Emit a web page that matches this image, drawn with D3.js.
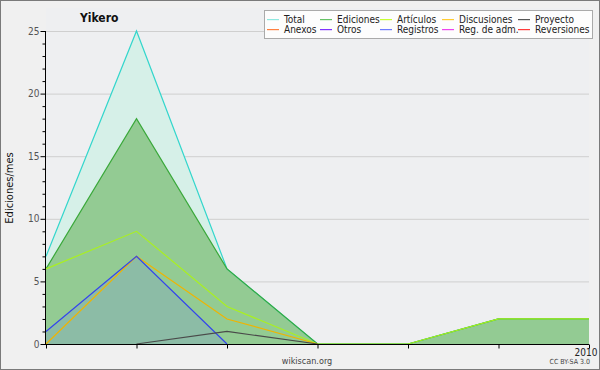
<!DOCTYPE html>
<meta charset="utf-8">
<style>
body { margin: 0; background: #f0f0f0; }
text { font-family: "DejaVu Sans Condensed", "DejaVu Sans", sans-serif; }
</style>
<svg width="600" height="370"></svg>
<script src="https://d3js.org/d3.v7.min.js"></script>
<script>

// months (only the last one gets a label)
var months = ["2009-07", "2009-08", "2009-09", "2009-10", "2009-11", "2009-12", "2010"];
var xLabels = ["", "", "", "", "", "", "2010"];

var total       = [7, 25, 6, 0, 0, 2, 2];
var ediciones   = [6, 18, 6, 0, 0, 2, 2];
var articulos   = [6, 9, 3, 0, 0, 2, 2];
var discusiones = [0, 7, 2, 0, null, null, null];
var registros   = [1, 7, 0, null, null, null, null];
var proyecto    = [null, 0, 1, 0, null, null, null];

var yTicks = [0, 5, 10, 15, 20, 25];

var legendNames  = ["Total", "Ediciones", "Artículos", "Discusiones", "Proyecto",
                    "Anexos", "Otros", "Registros", "Reg. de adm.", "Reversiones"];
var legendColors = ["#8fe8e0", "#66c266", "#c8ff33", "#ffcc33", "#555555",
                    "#ff8040", "#8033ff", "#6e7bff", "#ee44ee", "#ff3b3b"];

var svg = d3.select("svg"),
    width = +svg.attr("width"),
    height = +svg.attr("height");

var pLeft = 46, pRight = 589, pTop = 31, pBottom = 344;

var x = d3.scalePoint().domain(d3.range(months.length)).range([pLeft, pRight]);
var y = d3.scaleLinear().domain([0, 25]).range([pBottom, pTop]);

// outer frame
svg.append("rect").attr("x", 0.5).attr("y", 0.5).attr("width", width - 1).attr("height", height - 1)
  .attr("fill", "#f0f0f0").attr("stroke", "#7a7a7a");

// plot bg
svg.append("rect").attr("x", pLeft).attr("y", 8).attr("width", pRight - pLeft).attr("height", pBottom - 8)
  .attr("fill", "#eeeff1");

// grid
svg.append("g").selectAll("line").data(yTicks.slice(1)).enter().append("line")
  .attr("x1", pLeft).attr("x2", pRight)
  .attr("y1", function(d) { return y(d) + 0.5; }).attr("y2", function(d) { return y(d) + 0.5; })
  .attr("stroke", "#cfcfcf");

function area(vals) {
  return d3.area()
    .defined(function(d) { return d != null; })
    .x(function(d, i) { return x(i); })
    .y0(y(0)).y1(function(d) { return y(d); })(vals);
}
function line(vals) {
  return d3.line()
    .defined(function(d) { return d != null; })
    .x(function(d, i) { return x(i); })
    .y(function(d) { return y(d); })(vals);
}

svg.append("path").attr("d", area(total)).attr("fill", "#d6f0e8");
svg.append("path").attr("d", area(ediciones)).attr("fill", "#93cb93");
svg.append("path").attr("d", area(registros)).attr("fill", "#6e7bff").attr("fill-opacity", 0.18);

var lines = [
  [total, "#33d6cc"],
  [ediciones, "#3aa83a"],
  [articulos, "#aaf020"],
  [discusiones, "#f0b400"],
  [registros, "#3344ee"],
  [proyecto, "#4a4a4a"]
];
lines.forEach(function(l) {
  svg.append("path").attr("d", line(l[0])).attr("fill", "none")
    .attr("stroke", l[1]).attr("stroke-width", 1.2);
});

// y axis
var yAxis = svg.append("g").attr("transform", "translate(" + (pLeft - 0.5) + ",0)");
yAxis.append("line").attr("y1", pTop).attr("y2", pBottom + 1).attr("stroke", "#000");
yAxis.selectAll("line.minor").data(d3.range(0, 26)).enter().append("line")
  .attr("class", "minor")
  .attr("x1", function(d) { return d % 5 == 0 ? -5 : -3; }).attr("x2", 0)
  .attr("y1", function(d) { return y(d) + 0.5; }).attr("y2", function(d) { return y(d) + 0.5; })
  .attr("stroke", "#000");
yAxis.selectAll("text").data(yTicks).enter().append("text")
  .attr("x", -6).attr("y", function(d) { return y(d) + 3.5; })
  .attr("text-anchor", "end").attr("fill", "#555").style("font-size", "10px")
  .text(function(d) { return d; });

// x axis
var xAxis = svg.append("g").attr("transform", "translate(0," + (pBottom + 0.5) + ")");
xAxis.append("line").attr("x1", pLeft - 1).attr("x2", pRight).attr("stroke", "#000");
xAxis.selectAll("line.t").data(d3.range(months.length)).enter().append("line")
  .attr("class", "t")
  .attr("x1", function(i) { return x(i) + 0.5; }).attr("x2", function(i) { return x(i) + 0.5; })
  .attr("y1", 0).attr("y2", 4).attr("stroke", "#000");
xAxis.selectAll("text").data(xLabels).enter().append("text")
  .attr("x", function(d, i) { return x(i) - 3; }).attr("y", 11)
  .attr("text-anchor", "middle").attr("fill", "#222").style("font-size", "10px")
  .text(function(d) { return d; });

// titles
svg.append("text").attr("x", 80).attr("y", 22).text("Yikero")
  .style("font-size", "12px").style("font-weight", "bold").attr("fill", "#111");
svg.append("text").attr("transform", "translate(13,188) rotate(-90)")
  .attr("text-anchor", "middle").style("font-size", "11px").attr("fill", "#111")
  .text("Ediciones/mes");
svg.append("text").attr("x", 307).attr("y", 364).attr("text-anchor", "middle")
  .style("font-size", "9px").attr("fill", "#444").text("wikiscan.org");
svg.append("text").attr("x", 590).attr("y", 364).attr("text-anchor", "end")
  .style("font-size", "7px").attr("fill", "#444").text("CC BY-SA 3.0");

// legend
var lg = svg.append("g");
lg.append("rect").attr("x", 264.5).attr("y", 10.5).attr("width", 328).attr("height", 28)
  .attr("fill", "#fdfdfd").attr("stroke", "#aaa");
var colX = [267, 320, 380, 442, 518];
legendNames.forEach(function(name, i) {
  var cx = colX[i % 5], cy = i < 5 ? 19 : 29;
  lg.append("rect").attr("x", cx).attr("y", cy).attr("width", 12).attr("height", 1.2)
    .attr("fill", legendColors[i]);
  lg.append("text").attr("x", cx + 17).attr("y", cy + 4).style("font-size", "10px")
    .attr("fill", "#222").text(name);
});

</script>
